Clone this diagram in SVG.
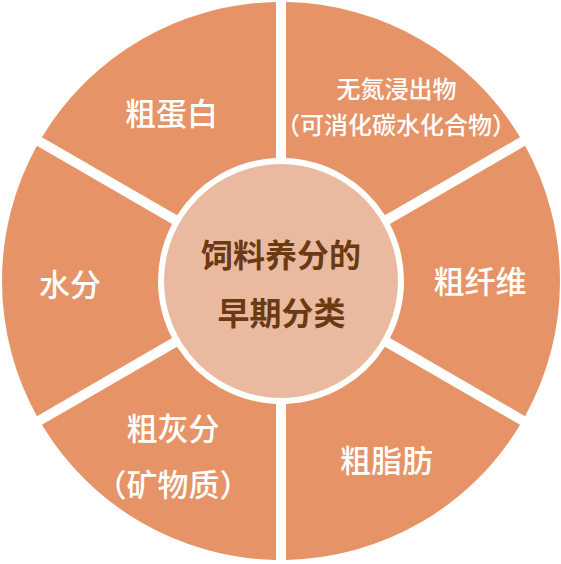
<svg xmlns="http://www.w3.org/2000/svg" width="561" height="564" viewBox="0 0 561 564">
<style>
.sec{fill:#e69467;}
.lbl{fill:#ffffff;font-family:"Noto Sans CJK SC","Noto Sans",sans-serif;font-weight:500;font-size:31px;text-anchor:middle;dominant-baseline:central;}
.sm{font-size:24px;}
.ctr{fill:#6b3a12;font-family:"Noto Sans CJK SC","Noto Sans",sans-serif;font-weight:700;font-size:32px;text-anchor:middle;dominant-baseline:central;}
</style>
<rect width="561" height="564" fill="#ffffff"/>
<g id="node-wudan">
<path class="sec" d="M520.08,137.19 A279,279 0 0 0 286,2.05 L286,158.1 A123,123 0 0 1 384.93,215.22 Z"/>
<text class="lbl sm" x="396.5" y="87">无氮浸出物</text>
<text class="lbl sm" x="396" y="123">（可消化碳水化合物）</text>
</g>
<g id="node-cuxianwei">
<path class="sec" d="M525.08,416.15 A279,279 0 0 0 525.08,145.85 L389.93,223.88 A123,123 0 0 1 389.93,338.12 Z"/>
<text class="lbl" x="480" y="279">粗纤维</text>
</g>
<g id="node-cuzhifang">
<path class="sec" d="M286,559.96 A279,279 0 0 0 520.08,424.81 L384.93,346.78 A123,123 0 0 1 286,403.9 Z"/>
<text class="lbl" x="386.5" y="458">粗脂肪</text>
</g>
<g id="node-cuhuifen">
<path class="sec" d="M41.92,424.81 A279,279 0 0 0 276,559.96 L276,403.9 A123,123 0 0 1 177.07,346.78 Z"/>
<text class="lbl" x="173" y="426">粗灰分</text>
<text class="lbl" x="173" y="482">（矿物质）</text>
</g>
<g id="node-shuifen">
<path class="sec" d="M36.92,145.85 A279,279 0 0 0 36.92,416.15 L172.07,338.12 A123,123 0 0 1 172.07,223.88 Z"/>
<text class="lbl" x="70" y="282">水分</text>
</g>
<g id="node-cudanbai">
<path class="sec" d="M276,2.05 A279,279 0 0 0 41.92,137.19 L177.07,215.22 A123,123 0 0 1 276,158.1 Z"/>
<text class="lbl" x="171.5" y="111">粗蛋白</text>
</g>
<g id="node-center">
<circle cx="281" cy="281" r="117" fill="#e9baa0"/>
<text class="ctr" x="281" y="253">饲料养分的</text>
<text class="ctr" x="281.5" y="311">早期分类</text>
</g>
<g id="connectors"></g>
</svg>
